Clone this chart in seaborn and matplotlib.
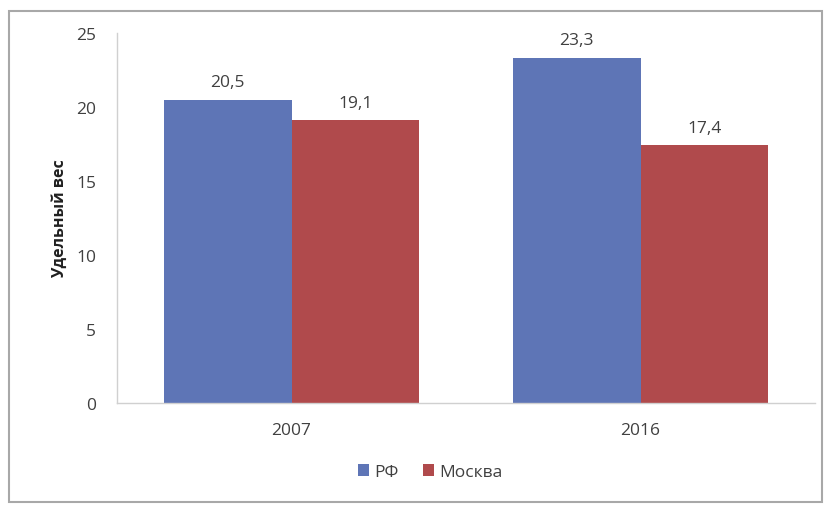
import matplotlib
matplotlib.use("Agg")
import matplotlib.pyplot as plt
from matplotlib.patches import Rectangle
import seaborn as sns
import pandas as pd

years = ["2007", "2016"]
series = ["РФ", "Москва"]
rf_values = [20.5, 23.3]
moscow_values = [19.1, 17.4]
y_ticks = [0, 5, 10, 15, 20, 25]
colors = ["#5E75B6", "#B04A4C"]

df = pd.DataFrame({
    "year": years * 2,
    "series": [series[0]] * len(years) + [series[1]] * len(years),
    "value": rf_values + moscow_values,
})

sns.set_theme(style="white")
plt.rcParams["font.family"] = ["Open Sans", "DejaVu Sans"]

fig = plt.figure(figsize=(8.30, 5.06), dpi=100)
ax = fig.add_axes([117 / 830, 1 - 404 / 506, (815 - 117) / 830, (404 - 34) / 506])

sns.barplot(data=df, x="year", y="value", hue="series", palette=colors,
            width=0.73, saturation=1, ax=ax, legend=True, errorbar=None,
            linewidth=0, edgecolor="none")

for container in ax.containers:
    labels = [f"{v:.1f}".replace(".", ",") for v in container.datavalues]
    ax.bar_label(container, labels=labels, padding=7, fontsize=12.5, color="#404040")

ax.set_ylim(0, 25)
ax.set_xlim(-0.5, 1.5)
ax.set_yticks(y_ticks)
ax.set_yticklabels([str(t) for t in y_ticks])
ax.tick_params(axis="both", length=0, labelsize=12.5, labelcolor="#404040")
ax.tick_params(axis="y", pad=15)
ax.tick_params(axis="x", pad=14)
ax.set_xlabel("")
ax.set_ylabel("Удельный вес", fontsize=11.5, fontweight="bold", color="#202020", labelpad=6)

for side in ["top", "right"]:
    ax.spines[side].set_visible(False)
for side in ["left", "bottom"]:
    ax.spines[side].set_color("#D0D0D0")
    ax.spines[side].set_linewidth(1.0)

ax.legend(loc="center", bbox_to_anchor=(430 / 830, 1 - 473 / 506),
          bbox_transform=fig.transFigure, ncol=2, frameon=False,
          fontsize=12.5, handlelength=0.65, handleheight=0.65, handletextpad=0.3,
          columnspacing=1.4, labelcolor="#404040")

# outer chart frame
fig.patches.append(Rectangle((9 / 830, 1 - 503 / 506), (822 - 9) / 830, (503 - 12) / 506,
                             transform=fig.transFigure, fill=False,
                             edgecolor="#A8A8A8", linewidth=1.5, zorder=10))

fig.savefig("out.png", dpi=100)
